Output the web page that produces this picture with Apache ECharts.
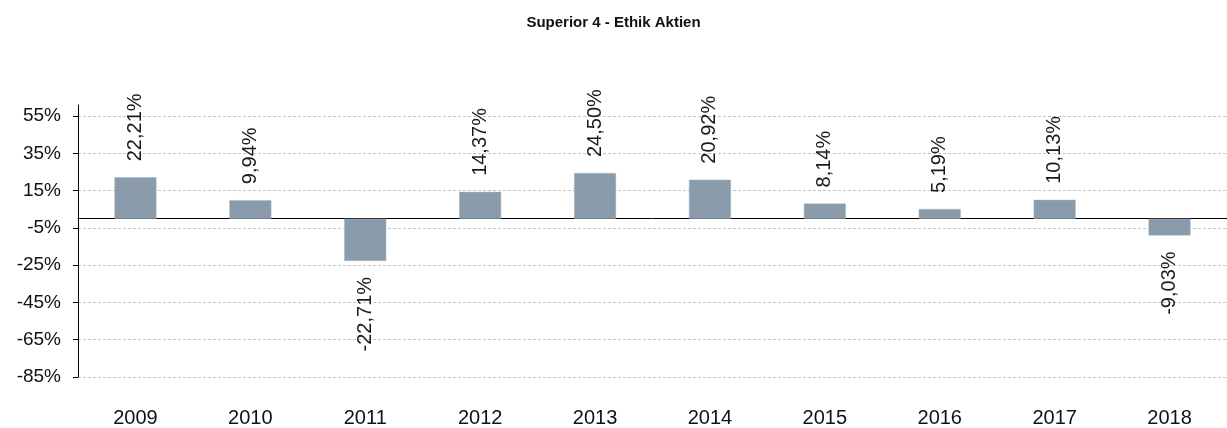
<!DOCTYPE html>
<html>
<head>
<meta charset="utf-8">
<script src="https://cdn.jsdelivr.net/npm/echarts@6/dist/echarts.min.js"></script>
<style>
html,body{margin:0;padding:0;background:#fff;}
#chart{width:1227px;height:428px;}
</style>
</head>
<body>
<div id="chart"></div>
<script>
const title = 'Superior 4 - Ethik Aktien';
const categories = ['2009','2010','2011','2012','2013','2014','2015','2016','2017','2018'];
const values = [22.21, 9.94, -22.71, 14.37, 24.50, 20.92, 8.14, 5.19, 10.13, -9.03];
const yMin = -85, yMax = 61, yInterval = 20;

const fmt = v => v.toFixed(2).replace('.', ',') + '%';
const font = 'Arial, "Liberation Sans", sans-serif';

const data = values.map(v => ({
  value: v,
  label: v >= 0
    ? { position: 'top', align: 'left', verticalAlign: 'middle' }
    : { position: 'bottom', align: 'right', verticalAlign: 'middle' }
}));

const chart = echarts.init(document.getElementById('chart'), null, {renderer: 'canvas'});
chart.setOption({
  animation: false,
  backgroundColor: '#fff',
  title: {
    text: title, left: 'center', top: 10,
    textStyle: {fontFamily: font, fontSize: 15, fontWeight: 'bold', color: '#111'}
  },
  grid: {left: 78, top: 105, width: 1160, bottom: 51, containLabel: false},
  xAxis: [{
    type: 'category', data: categories,
    axisLine: {show: false, onZero: false},
    axisTick: {show: false},
    position: 'bottom',
    axisLabel: {fontFamily: font, fontSize: 20, color: '#111', margin: 31}
  }, {
    type: 'category', data: categories,
    position: 'bottom',
    axisLine: {show: true, onZero: true, onZeroAxisIndex: 0, lineStyle: {color: '#000', width: 1}},
    axisTick: {show: false}, axisLabel: {show: false}, splitLine: {show: false}
  }],
  yAxis: {
    type: 'value', min: yMin, max: yMax, interval: yInterval,
    axisLine: {show: true, lineStyle: {color: '#000', width: 1}},
    axisTick: {show: true, length: 5, lineStyle: {color: '#000'}},
    axisLabel: {
      fontFamily: font, fontSize: 19, color: '#111', margin: 17,
      showMaxLabel: false,
      formatter: v => (v === yMax ? '' : v + '%')
    },
    splitLine: {
      show: true, showMaxLine: false,
      lineStyle: {color: '#c4c4c4', type: [3, 2], width: 1}
    }
  },
  series: [{
    type: 'bar', xAxisIndex: 0, data: data,
    barWidth: 42,
    itemStyle: {color: '#8a9bab', borderColor: '#a9b6c2', borderWidth: 0.5},
    label: {
      show: true, rotate: 90, distance: 16,
      fontFamily: font, fontSize: 20, color: '#1a1a1a',
      formatter: p => fmt(p.value)
    }
  }]
});
</script>
</body>
</html>
